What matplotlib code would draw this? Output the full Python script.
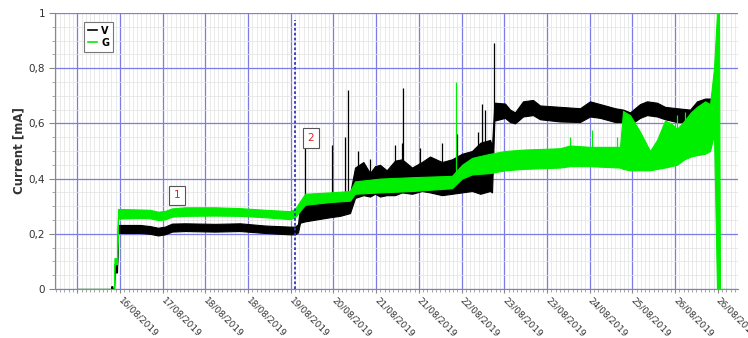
import numpy as np
import matplotlib
matplotlib.use("Agg")
import matplotlib.pyplot as plt
from matplotlib.ticker import FixedLocator, FuncFormatter, MultipleLocator
from matplotlib.lines import Line2D

# Time is expressed as fractional day of August 2019.
# Each series is stored as a band (min / max of the current in mA).
v_time = [15.905, 16.486, 16.490, 16.510, 16.515, 16.538, 16.545, 16.589, 16.606,
          16.982, 17.153, 17.290, 17.410, 17.529, 17.751, 18.264, 18.692, 19.119,
          19.547, 19.632, 19.683, 19.718, 19.803, 20.230, 20.401, 20.572, 20.658,
          20.800, 20.914, 21.000, 21.085, 21.200, 21.341, 21.461, 21.632, 21.800,
          21.940, 22.145, 22.316, 22.487, 22.658, 22.800, 22.966,
          23.000, 23.040, 23.222, 23.307, 23.393, 23.530, 23.700, 23.820, 24.162,
          24.504, 24.675, 24.846, 25.103, 25.240, 25.359, 25.530, 25.650, 25.821,
          25.957, 26.162, 26.385, 26.505, 26.642, 26.727, 26.761]
v_low = [0.0, 0.0, 0.0, 0.0, 0.0, 0.0, 0.060, 0.060, 0.203,
         0.203, 0.200, 0.194, 0.198, 0.208, 0.210, 0.208, 0.210, 0.203,
         0.198, 0.198, 0.205, 0.240, 0.245, 0.260, 0.265, 0.275, 0.330,
         0.340, 0.335, 0.345, 0.335, 0.340, 0.340, 0.350, 0.345, 0.355,
         0.350, 0.340, 0.345, 0.350, 0.355, 0.345, 0.355,
         0.350, 0.610, 0.620, 0.605, 0.600, 0.625, 0.630, 0.615, 0.607,
         0.605, 0.625, 0.620, 0.605, 0.605, 0.595, 0.620, 0.630, 0.625,
         0.615, 0.605, 0.605, 0.625, 0.630, 0.640, 0.640]
v_high = [0.0, 0.0, 0.010, 0.010, 0.0, 0.0, 0.087, 0.087, 0.232,
          0.232, 0.228, 0.222, 0.226, 0.237, 0.238, 0.236, 0.238, 0.230,
          0.226, 0.226, 0.235, 0.300, 0.305, 0.320, 0.335, 0.345, 0.440,
          0.460, 0.420, 0.445, 0.450, 0.430, 0.465, 0.470, 0.440, 0.460,
          0.480, 0.460, 0.470, 0.490, 0.500, 0.530, 0.540,
          0.520, 0.675, 0.672, 0.650, 0.640, 0.680, 0.685, 0.665, 0.660,
          0.655, 0.680, 0.670, 0.655, 0.650, 0.640, 0.670, 0.680, 0.675,
          0.660, 0.655, 0.650, 0.680, 0.690, 0.690, 0.690]

g_time = [15.905, 16.538, 16.545, 16.589, 16.606, 16.982, 17.153, 17.290, 17.410,
          17.529, 17.751, 18.264, 18.692, 19.119, 19.547, 19.632, 19.803, 20.230,
          20.572, 20.658, 21.085, 21.632, 22.316, 22.487, 22.658, 22.966, 23.222,
          23.530, 24.162, 24.333, 24.675, 25.188, 25.240, 25.359, 25.530, 25.701,
          25.821, 25.957, 26.060, 26.162, 26.290, 26.400, 26.505, 26.642, 26.727,
          26.795, 26.846, 26.880, 26.897, 27.034]
g_low = [0.0, 0.0, 0.090, 0.090, 0.255, 0.257, 0.256, 0.250, 0.252,
         0.262, 0.265, 0.266, 0.265, 0.260, 0.253, 0.260, 0.305, 0.315,
         0.320, 0.345, 0.350, 0.355, 0.365, 0.400, 0.415, 0.420, 0.430,
         0.435, 0.440, 0.445, 0.445, 0.440, 0.435, 0.430, 0.430, 0.430,
         0.435, 0.440, 0.445, 0.450, 0.470, 0.480, 0.485, 0.490, 0.500,
         0.560, 0.0, 0.0, 0.0, 0.0]
g_high = [0.0, 0.0, 0.112, 0.112, 0.290, 0.288, 0.287, 0.280, 0.283,
          0.292, 0.296, 0.296, 0.293, 0.287, 0.282, 0.290, 0.345, 0.350,
          0.355, 0.390, 0.400, 0.405, 0.410, 0.450, 0.475, 0.490, 0.500,
          0.505, 0.510, 0.520, 0.515, 0.515, 0.645, 0.630, 0.570, 0.500,
          0.540, 0.610, 0.600, 0.580, 0.610, 0.640, 0.660, 0.680, 0.670,
          0.800, 1.0, 1.0, 0.0, 0.0]

# Isolated peaks above the bands
v_spike_time = [19.803, 20.265, 20.487, 20.538, 20.709, 20.914, 21.341, 21.461,
                21.478, 21.769, 22.145, 22.402, 22.761, 22.829, 22.881, 23.034]
v_spike_peak = [0.515, 0.520, 0.550, 0.720, 0.500, 0.470, 0.520, 0.530,
                0.730, 0.510, 0.530, 0.560, 0.570, 0.670, 0.650, 0.890]
g_spike_time = [22.385, 24.333, 24.706, 25.134, 26.162, 26.305]
g_spike_peak = [0.750, 0.550, 0.576, 0.550, 0.630, 0.640]

event_time = 19.632          # dashed marker
note_labels = ["1", "2"]
note_time = [17.623, 19.897]
note_value = [0.339, 0.547]

tick_labels = ["", "16/08/2019", "17/08/2019", "18/08/2019", "18/08/2019",
               "19/08/2019", "20/08/2019", "21/08/2019", "21/08/2019",
               "22/08/2019", "23/08/2019", "23/08/2019", "24/08/2019",
               "25/08/2019", "26/08/2019", "26/08/2019"]
first_tick = 15.91
tick_step = 0.73

V_COLOR = "black"
G_COLOR = "#00ee00"
GRID_BLUE = "#7c7ce6"

fig = plt.figure(figsize=(7.48, 3.38), dpi=100)
ax = fig.add_axes([55 / 748, 49 / 338, 683 / 748, 276 / 338])

ax.set_xlim(15.529, 27.205)
ax.set_ylim(0, 1)

# grid
major_x = first_tick + tick_step * np.arange(len(tick_labels))
ax.xaxis.set_major_locator(FixedLocator(major_x))
ax.xaxis.set_minor_locator(FixedLocator(np.arange(first_tick - tick_step, 27.3, tick_step / 10)))
ax.yaxis.set_major_locator(MultipleLocator(0.2))
ax.yaxis.set_minor_locator(MultipleLocator(0.05))
ax.grid(which="minor", color="#e2e2e2", lw=0.5, zorder=0)
ax.grid(which="major", color=GRID_BLUE, lw=0.9, zorder=0.5)
ax.set_axisbelow(True)

# series
vt = np.array(v_time); vl = np.array(v_low); vh = np.array(v_high)
gt = np.array(g_time); gl = np.array(g_low); gh = np.array(g_high)

ax.fill_between(vt, vl, vh, color=V_COLOR, lw=0.8, zorder=2)
v_base = np.interp(v_spike_time, vt, (vl + vh) / 2)
ax.vlines(v_spike_time, v_base, v_spike_peak, colors=V_COLOR, lw=0.9, zorder=2)

ax.fill_between(gt, gl, gh, color=G_COLOR, lw=0.8, zorder=3)
g_base = np.interp(g_spike_time, gt, (gl + gh) / 2)
ax.vlines(g_spike_time, g_base, g_spike_peak, colors=G_COLOR, lw=0.9, zorder=3)

# event marker
ax.vlines(event_time, 0, 0.975, colors="#3535b5", linestyles=(0, (1.5, 1.2)), lw=1.3, zorder=4)

# notes
for lab, t, v in zip(note_labels, note_time, note_value):
    ax.text(t, v, lab, color="#e02020", fontsize=7.5, ha="center", va="center", zorder=5,
            bbox=dict(boxstyle="square,pad=0.45", fc="white", ec="#555555", lw=0.8))

# axes styling
for s in ("top", "right"):
    ax.spines[s].set_visible(False)
for s in ("left", "bottom"):
    ax.spines[s].set_color("#888888")
    ax.spines[s].set_linewidth(0.8)

ax.set_xticks(major_x)
ax.set_xticklabels(tick_labels, rotation=-45, ha="left", va="center", rotation_mode="anchor",
                   fontsize=6.5, color="#333333")
ax.tick_params(axis="x", which="major", length=3, color="#888888", pad=4)
ax.tick_params(axis="x", which="minor", length=2, color="#999999")
ax.tick_params(axis="y", which="major", length=4, color="#888888", labelsize=7.5,
               labelcolor="#333333", pad=3)
ax.tick_params(axis="y", which="minor", length=2, color="#999999")


def fmt_y(v, pos):
    if abs(v) < 1e-9:
        return "0"
    if abs(v - 1) < 1e-9:
        return "1"
    return f"{v:.1f}".replace(".", ",")


ax.yaxis.set_major_formatter(FuncFormatter(fmt_y))
ax.set_ylabel("Current [mA]", fontsize=8.5, fontweight="bold", color="#333333")
ax.yaxis.set_label_coords(-30 / 683, 0.5)

handles = [Line2D([], [], color=V_COLOR, lw=1.2), Line2D([], [], color=G_COLOR, lw=1.2)]
leg = ax.legend(handles, ["V", "G"], loc="upper left", bbox_to_anchor=(0.035, 0.985),
                handlelength=1.0, handletextpad=0.4, borderpad=0.4,
                labelspacing=0.2, fancybox=False, framealpha=1, edgecolor="#777777",
                prop={"weight": "bold", "size": 7})
leg.get_frame().set_linewidth(0.8)

fig.savefig("out.png", dpi=100)
